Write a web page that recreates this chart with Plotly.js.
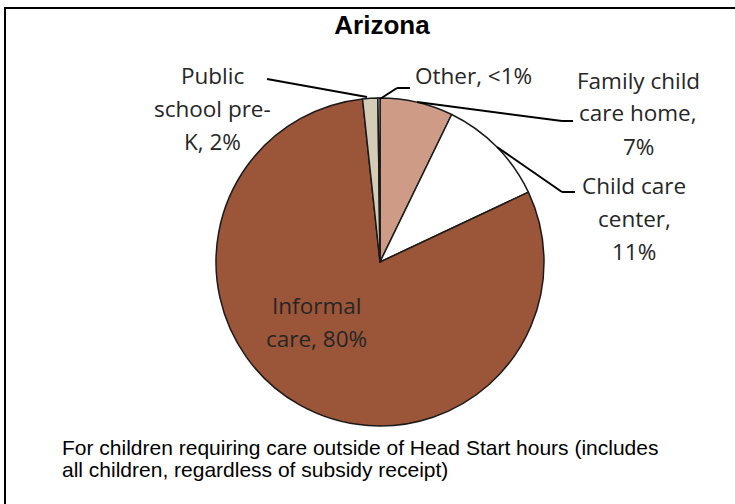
<!DOCTYPE html>
<html><head><meta charset="utf-8">
<script src="https://cdn.plot.ly/plotly-3.0.1.min.js"></script>
<style>html,body{margin:0;padding:0;background:#fff;}</style>
</head><body>
<div id="chart" style="width:735px;height:504px;"></div>
<script>
// Data (clockwise from 12 o'clock)
const categories = ["Family child care home", "Child care center", "Informal care", "Public school pre-K", "Other"];
const shares = [7.2, 10.8, 80.3, 1.5, 0.2];
const sliceColors = ["#CD9B86", "#FFFFFF", "#9B5538", "#D5CCB7", "#FFFFFF"];
const labelLines = [
  ["Family child", "care home,", "7%"],
  ["Child care", "center,", "11%"],
  ["Informal", "care, 80%"],
  ["Public", "school pre-", "K, 2%"],
  ["Other, <1%"]
];
const chartTitle = "Arizona";
const footnoteLines = [
  "For children requiring care outside of Head Start hours (includes",
  "all children, regardless of subsidy receipt)"
];

const W = 735, H = 504;
const px = x => x / W, py = y => 1 - y / H;

// label anchor positions (pixels) and line spacing
const labelPos = [[638, 80], [634, 185], [316, 305], [212, 75], [474, 75]];
const lineGap = 33;

const annotations = [];
labelLines.forEach((lines, i) => {
  lines.forEach((t, j) => {
    annotations.push({
      text: t, xref: 'paper', yref: 'paper',
      x: px(labelPos[i][0]), y: py(labelPos[i][1] + j * lineGap),
      xanchor: 'center', yanchor: 'middle', showarrow: false,
      font: {family: '"Open Sans", sans-serif', size: 22.5, color: '#262626'}
    });
  });
});
footnoteLines.forEach((t, j) => {
  annotations.push({
    text: t, xref: 'paper', yref: 'paper', x: px(60), y: py(447 + j * 22),
    xanchor: 'left', yanchor: 'middle', align: 'left', showarrow: false,
    font: {family: '"Liberation Sans", Arial, sans-serif', size: 21, color: '#000'}
  });
});

// leader lines (pixel paths)
const leaders = [
  [[417, 102], [562, 121], [573, 121]],
  [[497, 147], [562, 192], [575, 192]],
  [[367, 97], [267, 79]],
  [[380, 99], [397, 88], [410, 88]]
];
const shapes = [{
  type: 'rect', xref: 'paper', yref: 'paper',
  x0: px(5), x1: px(745), y0: py(514), y1: py(8),
  line: {color: '#000', width: 2}, fillcolor: 'rgba(0,0,0,0)'
}];
leaders.forEach(pts => {
  for (let k = 0; k < pts.length - 1; k++) {
    shapes.push({type: 'line', xref: 'paper', yref: 'paper',
      x0: px(pts[k][0]), y0: py(pts[k][1]), x1: px(pts[k+1][0]), y1: py(pts[k+1][1]),
      line: {color: '#000', width: 2}});
  }
});

const cx = 380, cy = 262, r = 164;
const trace = {
  type: 'pie', labels: categories, values: shares, sort: false,
  direction: 'clockwise', rotation: 0,
  marker: {colors: sliceColors, line: {color: '#1a1a1a', width: 1.5}},
  textinfo: 'none', hoverinfo: 'label+percent', showlegend: false,
  domain: {x: [px(cx - r), px(cx + r)], y: [py(cy + r), py(cy - r)]}
};

const layout = {
  width: W, height: H, margin: {l: 0, r: 0, t: 0, b: 0},
  paper_bgcolor: '#fff',
  title: {text: '<b>' + chartTitle + '</b>', x: px(382), xanchor: 'center', y: py(25), yanchor: 'middle',
    font: {family: '"Liberation Sans", Arial, sans-serif', size: 26, color: '#000'}},
  annotations: annotations, shapes: shapes, showlegend: false
};
Plotly.newPlot('chart', [trace], layout, {displayModeBar: false, staticPlot: true});
</script>
</body></html>
